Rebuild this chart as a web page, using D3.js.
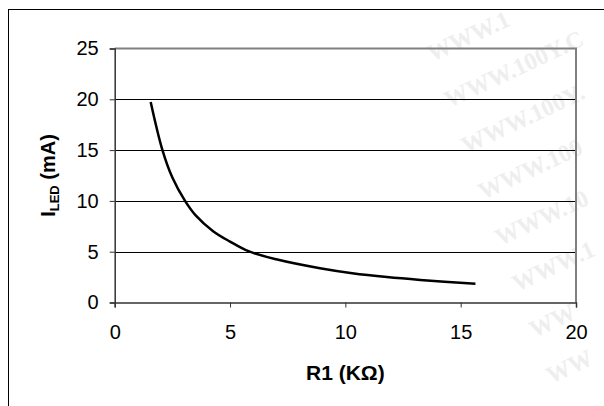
<!DOCTYPE html>
<html><head><meta charset="utf-8">
<script src="https://cdn.jsdelivr.net/npm/d3@7"></script>
<style>body{margin:0;background:#fff}svg{display:block}</style>
</head><body><div id="c"></div>
<script>
const r1Values = [1.56, 2.07, 2.5, 3.05, 3.5, 4.28, 5.0, 5.8, 7.0, 8.9, 10.3, 11.8, 13.25, 15.64];
const iledValues = [19.74, 15.0, 12.3, 10.0, 8.6, 7.0, 6.0, 5.05, 4.25, 3.37, 2.88, 2.5, 2.22, 1.85];
const xTicks = [0, 5, 10, 15, 20];
const yTicks = [0, 5, 10, 15, 20, 25];
const watermarkText = "WWW.100Y.COM.TW";

const W = 604, H = 406;
const m = {l: 114.7, r: 576, t: 48.5, b: 302.5};
const svg = d3.select("#c").append("svg").attr("width", W).attr("height", H);
const SANS = "Liberation Sans, Arial, sans-serif";

// watermark (faint, trimmed so it stays inside the picture)
const wm = svg.append("g");
const ang = -25 * Math.PI / 180;
for (let i = 0; i < 8; i++) {
  const x0 = 432 + 17 * i, y0 = 62 + 46 * i;
  const t = wm.append("text").attr("transform", `translate(${x0},${y0}) rotate(-25)`)
    .attr("font-family", "Liberation Serif, serif").attr("font-weight", "bold").attr("font-size", 24)
    .attr("fill", "#eeeeee");
  let s = watermarkText;
  t.text(s);
  while (s.length > 1) {
    const len = t.node().getComputedTextLength();
    const ex = x0 + len * Math.cos(ang) + 4, ey = y0 + len * Math.sin(ang) - 20;
    if (ex <= W - 2 && ey >= 2 && y0 <= H - 2) break;
    s = s.slice(0, -1); t.text(s);
  }
}

svg.append("rect").attr("x", 8.5).attr("y", 9.5).attr("width", 800).attr("height", 600)
  .attr("fill", "none").attr("stroke", "#000").attr("stroke-width", 1);

const x = d3.scaleLinear().domain([0, 20]).range([m.l, m.r]);
const y = d3.scaleLinear().domain([0, 25]).range([m.b, m.t]);

// gridlines
svg.append("g").selectAll("line").data(yTicks.filter(v => v > 0 && v < 25)).join("line")
  .attr("x1", m.l).attr("x2", m.r).attr("y1", d => Math.round(y(d)) + 0.5).attr("y2", d => Math.round(y(d)) + 0.5)
  .attr("stroke", "#000").attr("stroke-width", 1);

// plot border (top/right gray)
svg.append("path").attr("d", `M${m.l},${m.t}H${m.r}V${m.b}`).attr("fill", "none")
  .attr("stroke", "#808080").attr("stroke-width", 2);

// axes
const yAxis = d3.axisLeft(y).tickValues(yTicks).tickSize(5).tickPadding(11);
const gy = svg.append("g").attr("transform", `translate(${m.l},0)`).call(yAxis);
const xAxis = d3.axisBottom(x).tickValues(xTicks).tickSize(5).tickPadding(17);
const gx = svg.append("g").attr("transform", `translate(0,${m.b})`).call(xAxis);
[gx, gy].forEach(g => {
  g.select(".domain").attr("stroke", "#333").attr("stroke-width", 1.5);
  g.selectAll(".tick line").attr("stroke", "#333");
  g.selectAll("text").attr("font-family", SANS).attr("font-size", 20).attr("fill", "#000");
});

// curve
const pts = r1Values.map((v, i) => [v, iledValues[i]]);
svg.append("path").datum(pts)
  .attr("d", d3.line().x(d => x(d[0])).y(d => y(d[1])).curve(d3.curveCatmullRom.alpha(0.5)))
  .attr("fill", "none").attr("stroke", "#000").attr("stroke-width", 2.5);

// titles
svg.append("text").attr("x", (m.l + m.r) / 2).attr("y", 380).attr("text-anchor", "middle")
  .attr("font-family", SANS).attr("font-weight", "bold").attr("font-size", 21)
  .text("R1 (KΩ)");
const yt = svg.append("text").attr("transform", `translate(55,${(m.t + m.b) / 2}) rotate(-90)`)
  .attr("text-anchor", "middle")
  .attr("font-family", SANS).attr("font-weight", "bold").attr("font-size", 20);
yt.append("tspan").text("I");
yt.append("tspan").attr("font-size", 13).attr("dy", 4).text("LED");
yt.append("tspan").attr("dy", -4).text(" (mA)");
</script></body></html>
